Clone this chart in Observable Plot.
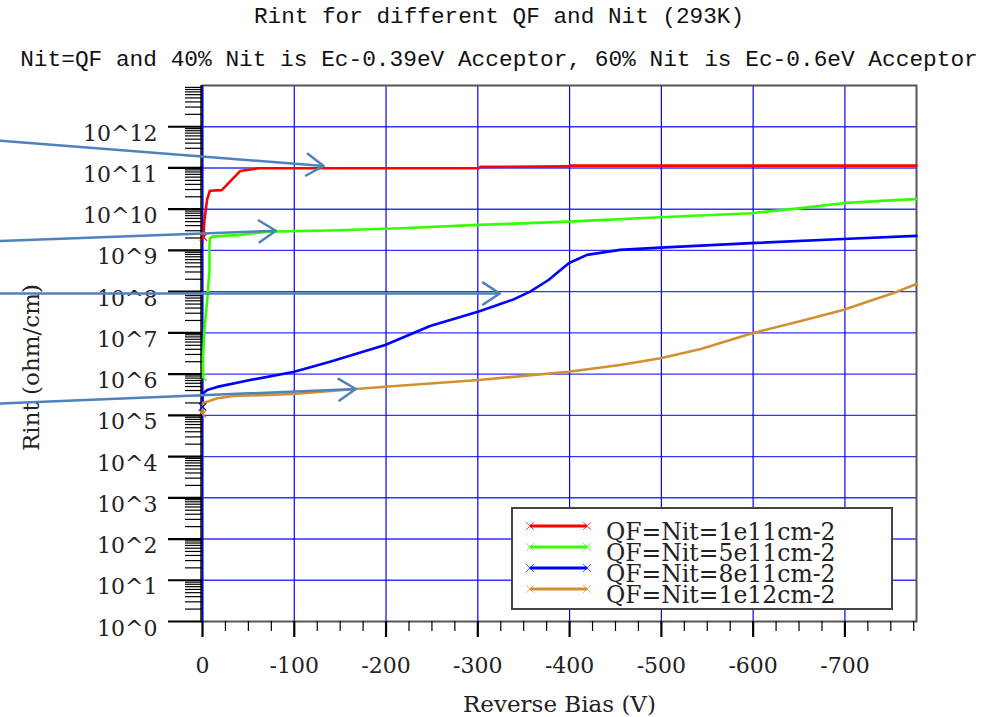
<!DOCTYPE html>
<html><head><meta charset="utf-8">
<script src="https://cdn.jsdelivr.net/npm/d3@7"></script>
<script src="https://cdn.jsdelivr.net/npm/@observablehq/plot@0.6"></script>
<style>
body{margin:0;background:#fff;}
#wrap{position:relative;width:984px;height:717px;overflow:hidden;background:#fff;}
#title{box-sizing:border-box;padding-left:14px;height:34px;line-height:34px;text-align:center;font-family:"Liberation Mono",monospace;font-size:22.7px;color:#111;white-space:nowrap;}
#subtitle{box-sizing:border-box;padding-left:14px;height:44px;padding-top:8px;line-height:36px;text-align:center;font-family:"Liberation Mono",monospace;font-size:22.8px;color:#111;white-space:nowrap;}
#legend{position:absolute;left:511px;top:507px;width:382px;height:103px;box-sizing:border-box;border:2px solid #444;background:#fff;}
#chart svg{display:block;}
</style></head><body>
<div id="wrap">
<div id="title">Rint for different QF and Nit (293K)</div>
<div id="subtitle">Nit=QF and 40% Nit is Ec-0.39eV Acceptor, 60% Nit is Ec-0.6eV Acceptor</div>
<div id="chart"></div>
<div id="legend"></div>
</div>
<script>
// ---- series names and colours ----
const seriesNames = ["QF=Nit=1e11cm-2", "QF=Nit=5e11cm-2", "QF=Nit=8e11cm-2", "QF=Nit=1e12cm-2"];
const seriesColors = ["#ff0000", "#33ff00", "#0000ff", "#d39030"];

// ---- data (bias in V, Rint in ohm/cm) ----
const biasRed = [-1, -2, -5, -8, -21, -41, -61, -301, -303, -399, -401, -778];
const rintRed = [2.1e9, 5.0e9, 1.7e10, 2.8e10, 2.9e10, 8.4e10, 9.8e10, 9.9e10, 1.06e11, 1.09e11, 1.14e11, 1.14e11];

const biasGreen = [-0.3, -0.6, -1.9, -5.4, -7.6, -7.6, -8.2, -10.9, -41, -71, -139, -216, -301, -399, -499, -598, -652, -698, -760, -778];
const rintGreen = [8.5e5, 2.6e6, 1.0e7, 7.4e7, 3.4e8, 1.36e9, 1.96e9, 2.16e9, 2.38e9, 2.86e9, 3.03e9, 3.46e9, 4.16e9, 5.0e9, 6.4e9, 8.0e9, 1.06e10, 1.40e10, 1.68e10, 1.75e10];

const biasBlue = [0, 0, -5, -16, -52, -99, -139, -199, -248, -301, -339, -357, -377, -399, -419, -455, -499, -598, -698, -778];
const rintBlue = [1.6e5, 3.3e5, 4.1e5, 4.9e5, 7.2e5, 1.12e6, 2.0e6, 5.1e6, 1.47e7, 3.3e7, 6.5e7, 1.0e8, 1.92e8, 4.9e8, 7.8e8, 1.03e9, 1.17e9, 1.50e9, 1.90e9, 2.25e9];

const biasOrange = [0, -0.3, -5, -16, -34, -99, -167, -199, -301, -399, -455, -499, -543, -599, -652, -698, -757, -778];
const rintOrange = [1.08e5, 1.96e5, 2.14e5, 2.59e5, 2.94e5, 3.29e5, 4.35e5, 4.94e5, 7.2e5, 1.14e6, 1.66e6, 2.42e6, 4.06e6, 9.8e6, 1.95e7, 3.6e7, 1.0e8, 1.54e8];

// ---- annotation arrows (data units) ----
const arrowX1 = [220, 220, 220, 220];
const arrowY1 = [4.6e11, 1.7e9, 9.0e7, 1.93e5];
const arrowX2 = [-132, -80, -324, -167];
const arrowY2 = [1.12e11, 3.0e9, 9.0e7, 4.35e5];

// ---- ticks ----
const xMajor = [0, -100, -200, -300, -400, -500, -600, -700];
const xMinor = d3.range(0, -779, -25).filter(v => v % 100 !== 0);
const yMajor = d3.range(0, 13).map(e => Math.pow(10, e));
const yMinor = [];
for (let e = 0; e < 13; e++) for (let k = 2; k <= 9; k++) yMinor.push(k * Math.pow(10, e));

// ---- build table ----
const biasAll = [biasRed, biasGreen, biasBlue, biasOrange];
const rintAll = [rintRed, rintGreen, rintBlue, rintOrange];
const rows = [];
seriesNames.forEach((s, i) => biasAll[i].forEach((b, j) => rows.push({series: s, bias: b, rint: rintAll[i][j]})));
const firstPts = seriesNames.map((s, i) => ({series: s, bias: biasAll[i][0], rint: rintAll[i][0]}));
const arrowIdx = d3.range(arrowX1.length);

const serif = "DejaVu Serif";
const chart = Plot.plot({
  width: 984, height: 639,
  marginLeft: 202, marginRight: 68, marginTop: 7, marginBottom: 96,
  x: {domain: [0, -778]},
  y: {type: "log", domain: [1, 1e13]},
  color: {domain: seriesNames, range: seriesColors},
  style: {fontFamily: serif, fontSize: "22px", background: "white", overflow: "visible", color: "#222"},
  marks: [
    Plot.gridY(yMajor.slice(1), {stroke: "#0000ff", strokeOpacity: 0.8, strokeWidth: 1.4}),
    Plot.gridX(xMajor, {stroke: "#0000ff", strokeOpacity: 1, strokeWidth: 1.2}),
    Plot.frame({stroke: "#555", strokeWidth: 2}),
    Plot.ruleX([0], {stroke: "#0000ff", strokeWidth: 1.5}),
    Plot.ruleX([0], {stroke: "#000", strokeWidth: 1.4, dx: -1.5}),
    Plot.line(rows, {x: "bias", y: "rint", z: "series", stroke: "series", strokeWidth: 2.6}),
    Plot.dot(firstPts, {x: "bias", y: "rint", stroke: "series", symbol: "times", r: 3.5, strokeWidth: 1.2}),
    Plot.axisY(yMajor, {anchor: "left", tickSize: 34, strokeWidth: 2.2, stroke: "#000", tickFormat: () => "", label: null}),
    Plot.axisY(yMinor, {anchor: "left", tickSize: 17, strokeWidth: 1.2, stroke: "#000", tickFormat: () => "", label: null}),
    Plot.axisY(yMajor, {anchor: "left", tickSize: 0, tickPadding: 45, dy: 7, fill: "#222", tickFormat: d => "10^" + Math.round(Math.log10(d)), label: null}),
    Plot.axisX(xMajor, {anchor: "bottom", tickSize: 16, strokeWidth: 2.2, stroke: "#000", tickFormat: () => "", label: null}),
    Plot.axisX(xMinor, {anchor: "bottom", tickSize: 10, strokeWidth: 1.2, stroke: "#000", tickFormat: () => "", label: null}),
    Plot.axisX(xMajor, {anchor: "bottom", tickSize: 0, tickPadding: 36, fill: "#222", tickFormat: d => String(d), label: null}),
    Plot.text(["Reverse Bias (V)"], {frameAnchor: "bottom", textAnchor: "middle", lineAnchor: "middle", dy: 83, fontSize: 23, fill: "#222"}),
    Plot.text(["Rint (ohm/cm)"], {frameAnchor: "left", textAnchor: "middle", lineAnchor: "middle", rotate: -90, dx: -171, dy: 14, fontSize: 23, fill: "#222"}),
    Plot.arrow(arrowIdx, {x1: i => arrowX1[i], y1: i => arrowY1[i], x2: i => arrowX2[i], y2: i => arrowY2[i],
      stroke: "#4f81bd", strokeWidth: 2.5, headLength: 12, headAngle: 66})
  ]
});
document.getElementById("chart").appendChild(chart);

// ---- legend ----
const leg = d3.select("#legend").append("svg").attr("width", 378).attr("height", 99)
  .style("display", "block").style("font-family", serif);
seriesNames.forEach((s, i) => {
  const y = 17 + 21 * i;
  const g = leg.append("g");
  g.append("line").attr("x1", 17).attr("x2", 74).attr("y1", y).attr("y2", y)
    .attr("stroke", seriesColors[i]).attr("stroke-width", 3);
  [17, 74].forEach(cx => {
    g.append("path").attr("d", `M${cx-4},${y-4}L${cx+4},${y+4}M${cx-4},${y+4}L${cx+4},${y-4}`)
      .attr("stroke", seriesColors[i]).attr("stroke-width", 1).attr("stroke-opacity", 0.7);
  });
  g.append("text").attr("x", 93).attr("y", 30.5 + 21 * i).attr("font-size", 23.5).attr("fill", "#222").text(s);
});
</script>
</body></html>
